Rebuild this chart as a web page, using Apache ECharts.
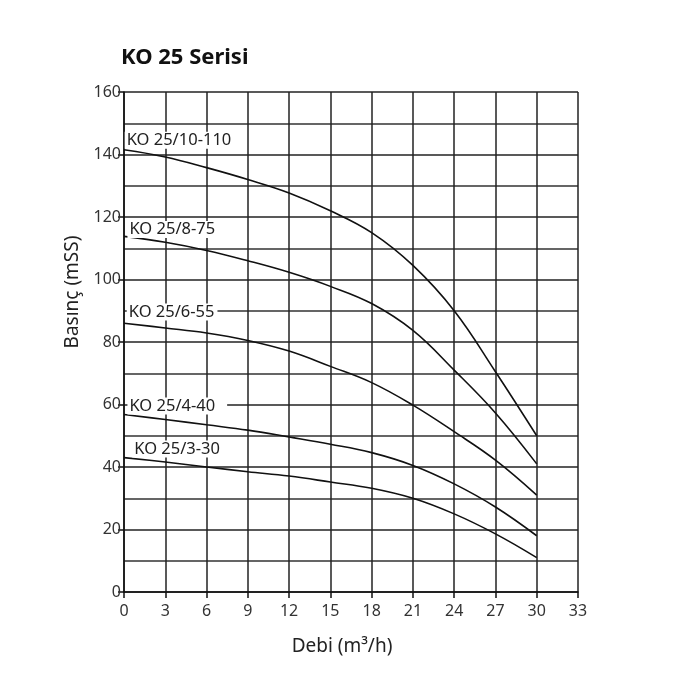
<!DOCTYPE html>
<html>
<head>
<meta charset="utf-8">
<script src="https://cdn.jsdelivr.net/npm/echarts@6/dist/echarts.min.js"></script>
<style>
  html, body { margin: 0; padding: 0; background: #fff; }
  #chart { width: 700px; height: 700px; }
</style>
</head>
<body>
<div id="chart"></div>
<script>
// debi (m3/h)
var flow = [0, 3, 6, 9, 12, 15, 18, 21, 24, 27, 30];

// basinc (mSS) per pump
var ko10_110 = [141.5, 139.2, 135.8, 132, 127.7, 122, 115, 104.5, 90, 70.5, 50];
var ko8_75 = [113.8, 111.9, 109.3, 106, 102.3, 97.8, 92.3, 83.7, 71, 57.3, 41];
var ko6_55 = [86, 84.5, 82.9, 80.5, 77.1, 72.2, 67, 59.8, 51.3, 42.2, 31];
var ko4_40 = [56.8, 55.2, 53.5, 51.8, 49.6, 47.3, 44.6, 40.5, 34.6, 27.2, 18];
var ko3_30 = [43, 41.6, 40, 38.5, 37.1, 35.2, 33.2, 30, 25, 18.6, 11];

var seriesNames = ['KO 25/10-110', 'KO 25/8-75', 'KO 25/6-55', 'KO 25/4-40', 'KO 25/3-30'];
var seriesData = [ko10_110, ko8_75, ko6_55, ko4_40, ko3_30];
// where each curve name sits [debi, basinc]
var labelAt = [[0.05, 144.6], [0.25, 116], [0.2, 89.6], [0.25, 59.5], [0.6, 45.8]];

var font = 'Noto Sans';
var chart = echarts.init(document.getElementById('chart'));

var series = seriesNames.map(function (name, i) {
    return {
        name: name,
        type: 'line',
        smooth: 0.4,
        showSymbol: false,
        lineStyle: { color: '#111', width: 1.6 },
        data: flow.map(function (q, j) { return [q, seriesData[i][j]]; }),
        markPoint: {
            symbol: 'rect',
            symbolSize: 0,
            animation: false,
            data: [{
                coord: labelAt[i],
                label: {
                    show: true,
                    position: 'right',
                    distance: 0,
                    formatter: name,
                    color: '#222',
                    fontFamily: font,
                    fontSize: 16.5,
                    backgroundColor: '#fff',
                    padding: i === 3 ? [0, 12, 0, 2] : [0, 3, 0, 2]
                }
            }]
        }
    };
});

var option = {
    animation: false,
    backgroundColor: '#fff',
    title: {
        text: 'KO 25 Serisi',
        left: 116,
        top: 42,
        textStyle: { fontFamily: font, fontSize: 22, fontWeight: 'bold', color: '#111' }
    },
    grid: { left: 124, right: 122, top: 92, bottom: 108 },
    xAxis: {
        type: 'value',
        min: 0,
        max: 33,
        interval: 3,
        name: 'Debi (m³/h)',
        nameLocation: 'middle',
        nameGap: 45,
        nameTextStyle: { fontFamily: font, fontSize: 19, color: '#222', padding: [0, 18, 0, 0] },
        axisLine: { lineStyle: { color: '#111', width: 1.5 } },
        axisTick: { show: true, length: 6, lineStyle: { color: '#111', width: 1.5 } },
        axisLabel: { fontFamily: font, fontSize: 16, color: '#333', margin: 11 },
        splitLine: { show: true, lineStyle: { color: '#222', width: 1.5 } }
    },
    yAxis: {
        type: 'value',
        min: 0,
        max: 160,
        interval: 20,
        name: 'Basınç (mSS)',
        nameLocation: 'middle',
        nameGap: 42,
        nameTextStyle: { fontFamily: font, fontSize: 19, color: '#222', padding: [0, 0, 0, 100] },
        axisLine: { show: true, lineStyle: { color: '#111', width: 1.5 } },
        axisTick: { show: true, length: 6, lineStyle: { color: '#111', width: 1.5 } },
        axisLabel: { fontFamily: font, fontSize: 16, color: '#333', margin: 3 },
        splitLine: { show: true, lineStyle: { color: '#222', width: 1.5 } },
        minorTick: { show: false, splitNumber: 2 },
        minorSplitLine: { show: true, lineStyle: { color: '#333', width: 1.5 } }
    },
    series: series
};

chart.setOption(option);
</script>
</body>
</html>
